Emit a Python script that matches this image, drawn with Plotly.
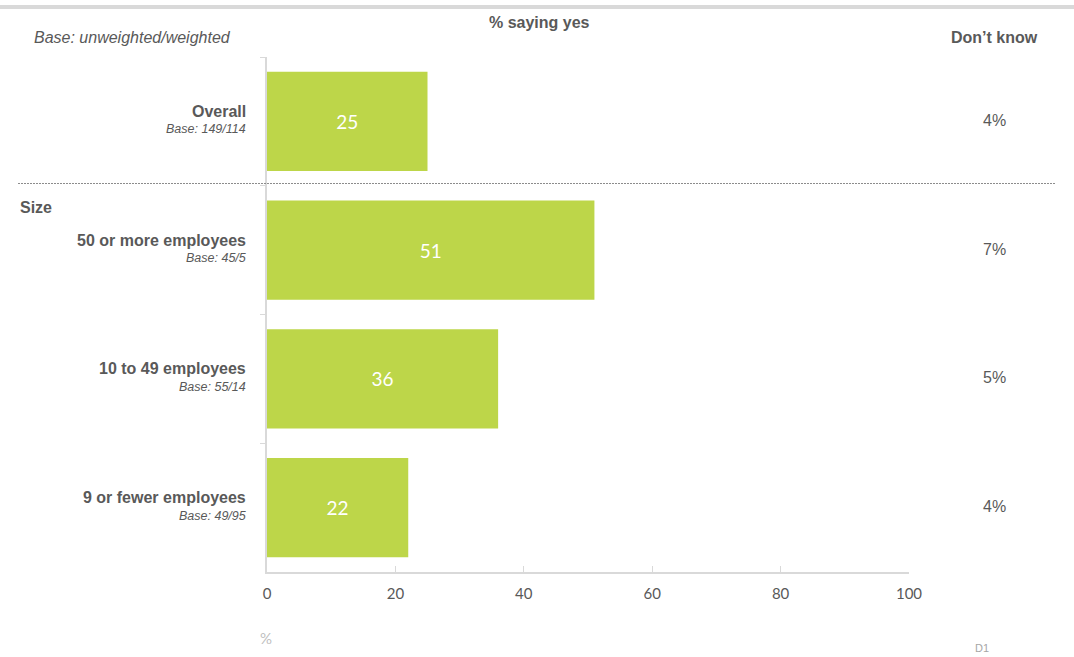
import plotly.graph_objects as go

# Survey results: % saying yes, by business size
categories = ["Overall", "50 or more employees", "10 to 49 employees", "9 or fewer employees"]
bases = ["Base: 149/114", "Base: 45/5", "Base: 55/14", "Base: 49/95"]
yes_pct = [25, 51, 36, 22]
dont_know = ["4%", "7%", "5%", "4%"]
x_ticks = [0, 20, 40, 60, 80, 100]

W, H = 1074, 657
L, R, T, B = 267, 909, 57, 572  # plot area edges in pixels


def px(x):
    return (x - L) / (R - L)


def py(y):
    return (B - y) / (B - T)


GREEN = "#bdd649"
DARK = "#595959"
AXIS = "#d9d9d9"
LABEL_FONT = "Liberation Sans"

fig = go.Figure(
    go.Bar(
        x=yes_pct,
        y=categories,
        orientation="h",
        width=0.77,
        marker=dict(color=GREEN, line=dict(width=0)),
        text=[str(v) for v in yes_pct],
        textposition="inside",
        insidetextanchor="middle",
        textfont=dict(family="Lato", size=19, color="white"),
        hoverinfo="skip",
    )
)

annotations = []
for cat, base, dk in zip(categories, bases, dont_know):
    annotations.append(dict(
        x=0, xref="paper", y=cat, yref="y", xanchor="right", yanchor="middle",
        xshift=-19, yshift=10, showarrow=False,
        text="<b>%s</b>" % cat,
        font=dict(family=LABEL_FONT, size=16, color=DARK),
    ))
    annotations.append(dict(
        x=0, xref="paper", y=cat, yref="y", xanchor="right", yanchor="middle",
        xshift=-19, yshift=-8, showarrow=False,
        text="<i>%s</i>" % base,
        font=dict(family=LABEL_FONT, size=12.5, color=DARK),
    ))
    annotations.append(dict(
        x=px(994), xref="paper", y=cat, yref="y", xanchor="center", yanchor="middle",
        yshift=1, showarrow=False, text=dk,
        font=dict(family=LABEL_FONT, size=16, color=DARK),
    ))

annotations += [
    dict(x=px(539), y=py(23), xref="paper", yref="paper", showarrow=False,
         xanchor="center", yanchor="middle", text="<b>% saying yes</b>",
         font=dict(family=LABEL_FONT, size=16, color=DARK)),
    dict(x=px(32), y=py(37), xref="paper", yref="paper", showarrow=False,
         xanchor="left", yanchor="middle", text="<i>Base: unweighted/weighted</i>",
         font=dict(family=LABEL_FONT, size=16, color=DARK)),
    dict(x=px(995), y=py(37), xref="paper", yref="paper", showarrow=False,
         xanchor="center", yanchor="middle", text="<b>Don’t know</b>",
         font=dict(family=LABEL_FONT, size=16, color=DARK)),
    dict(x=px(18), y=py(207), xref="paper", yref="paper", showarrow=False,
         xanchor="left", yanchor="middle", text="<b>Size</b>",
         font=dict(family=LABEL_FONT, size=16, color=DARK)),
    dict(x=px(266), y=py(638), xref="paper", yref="paper", showarrow=False,
         xanchor="center", yanchor="middle", text="%",
         font=dict(family="Lato", size=15, color="#bfbfbf")),
    dict(x=px(982), y=py(648), xref="paper", yref="paper", showarrow=False,
         xanchor="center", yanchor="middle", text="D1",
         font=dict(family=LABEL_FONT, size=11, color="#a6a6a6")),
]

shapes = [
    # grey rule across the top of the page
    dict(type="rect", xref="paper", yref="paper", x0=px(0), x1=px(W),
         y0=py(9), y1=py(5), fillcolor="#d9d9d9", line=dict(width=0), layer="below"),
    # dotted separator between the overall row and the size group
    dict(type="line", xref="paper", yref="paper", x0=px(18), x1=px(1056),
         y0=py(183.5), y1=py(183.5), line=dict(color="#8c8c8c", width=1, dash="2px,1px")),
]

fig.update_layout(
    width=W, height=H,
    margin=dict(l=L, r=W - R, t=T, b=H - B, pad=0),
    paper_bgcolor="white", plot_bgcolor="white",
    showlegend=False,
    bargap=0.23,
    annotations=annotations,
    shapes=shapes,
    xaxis=dict(
        range=[0, 100], tickvals=x_ticks, ticktext=[str(t) for t in x_ticks],
        showgrid=False, zeroline=False,
        showline=True, linecolor=AXIS, linewidth=2,
        ticks="inside", ticklen=6, tickcolor=AXIS, tickwidth=1,
        ticklabelstandoff=7,
        tickfont=dict(family="Lato", size=15, color=DARK),
        fixedrange=True,
    ),
    yaxis=dict(
        categoryorder="array", categoryarray=categories,
        range=[3.5, -0.5],
        showticklabels=False, showgrid=False, zeroline=False,
        showline=True, linecolor=AXIS, linewidth=2,
        ticks="outside", tickson="boundaries", ticklen=5, tickcolor=AXIS,
        fixedrange=True,
    ),
)

fig.write_html("out.html")
